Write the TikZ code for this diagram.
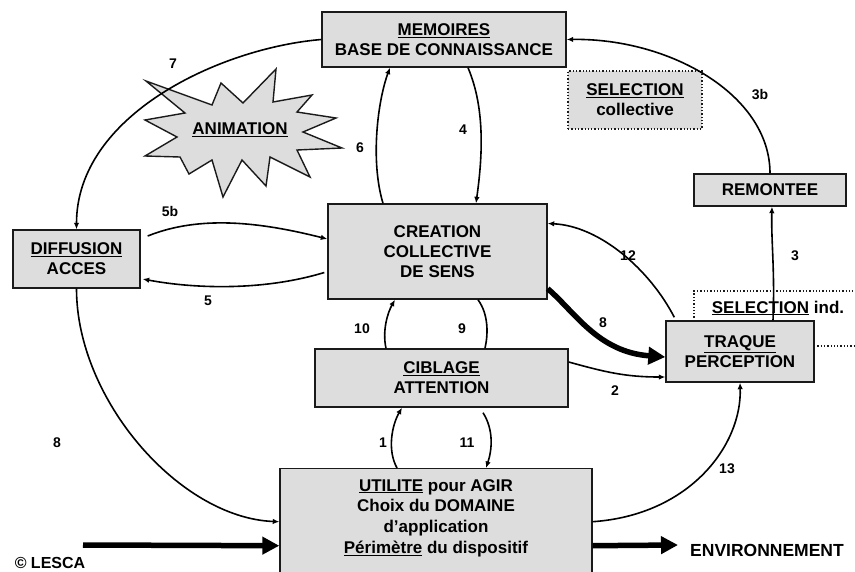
\documentclass[tikz,border=0pt]{standalone}
\usepackage{fontspec}
\setmainfont{Liberation Sans}
\usetikzlibrary{arrows.meta,calc}
\definecolor{boxfill}{HTML}{DDDDDD}
\definecolor{edge}{HTML}{1A1A1A}
\begin{document}
\begin{tikzpicture}[x=1pt,y=-1pt,
  box/.style={draw=edge,line width=1.4pt,fill=boxfill,align=center,inner sep=0pt,
    font=\bfseries\fontsize{17}{20}\selectfont},
  dotbox/.style={draw=edge,dotted,line width=1.3pt,fill=boxfill,align=center,inner sep=0pt,
    font=\bfseries\fontsize{17}{20}\selectfont},
  dotline/.style={draw=edge,dotted,line width=1.3pt},
  lbl/.style={font=\bfseries\fontsize{14}{16}\selectfont,inner sep=0pt},
  txt/.style={font=\bfseries\fontsize{17}{20}\selectfont,inner sep=0pt,align=center},
  conn/.style={draw=black,line width=1.6pt,-{Latex[length=6.5pt,width=5.5pt]}},
  plainconn/.style={draw=black,line width=1.6pt},
  bigarrow/.style={draw=black,line width=5.5pt,-{Triangle[length=17pt,width=17pt]}}]
\useasboundingbox (0,0) rectangle (855,571);
\clip (0,0) rectangle (855,571);

% nodes
\node[box,minimum width=244pt,minimum height=55pt] (mem) at (444,39.5) {\underline{MEMOIRES}\\BASE DE CONNAISSANCE};
\node[dotbox,minimum width=134pt,minimum height=58pt] (selc) at (635,100) {\underline{SELECTION}\\collective};
\node[box,minimum width=152pt,minimum height=32pt] (rem) at (770,190) {REMONTEE};
\node[box,minimum width=127pt,minimum height=58pt] (diff) at (76.5,259) {\underline{DIFFUSION}\\ACCES};
\node[box,minimum width=219pt,minimum height=95pt] (crea) at (437.5,251.5) {CREATION\\COLLECTIVE\\DE SENS};
\node[box,minimum width=253pt,minimum height=58pt] (cib) at (441.5,378) {\underline{CIBLAGE}\\ATTENTION};

% SELECTION ind. dotted frame
\coordinate (sela) at (694,321);
\coordinate (selb) at (862,291);
\coordinate (selc1) at (814,346);
\coordinate (seld) at (862,346);
\draw[dotline] (sela) |- (selb);
\draw[dotline] (selc1) -- (seld);
\node[txt] (seli) at (778,308) {\underline{SELECTION} ind.};

\node[box,minimum width=148pt,minimum height=61pt] (traq) at (740,351.5) {\underline{TRAQUE}\\PERCEPTION};
\node[box,minimum width=312pt,minimum height=130pt,anchor=north] (util) at (436,468) {};
\node[txt,font=\bfseries\fontsize{17}{20.7}\selectfont] (utiltxt) at (436,518) {\underline{UTILITE} pour AGIR\\Choix du DOMAINE\\d’application\\\underline{Périmètre} du dispositif};

% star
\draw[fill=boxfill,draw=edge,line width=1.4pt,line join=miter]
  (146,81) -- (212,105) -- (221,83) -- (243,103) -- (276,69) -- (273,102)
  -- (312,95) -- (297,112) -- (336,118) -- (303,132) -- (342,148) -- (297,150)
  -- (310,177) -- (270,157) -- (266,186) -- (242,160) -- (223,197) -- (212,160)
  -- (189,174) -- (180,157) -- (145,156) -- (177,137) -- (145,120) -- (185,113) -- cycle;
\node[txt] (anim) at (240,130) {\underline{ANIMATION}};

% connectors
\draw[conn] (rem.north) .. controls (770,95) and (670,38) .. (mem.east);
\draw[conn] (mem.west) .. controls (220,48) and (76.5,115) .. (diff.north);
\draw[conn] ([shift={(-54.5,0)}]crea.north) .. controls (370,160) and (378,100) .. ([shift={(-54,0)}]mem.south);
\draw[conn] ([shift={(24,0)}]mem.south) .. controls (486,110) and (482,160) .. ([shift={(38.5,0)}]crea.north);
\draw[conn] ([shift={(7,-23)}]diff.east) .. controls (200,215) and (260,222) .. ([shift={(0,-12.5)}]crea.west);
\draw[conn] ([shift={(-3,21)}]crea.west) .. controls (260,292) and (190,288) .. ([shift={(2,20)}]diff.east);
\draw[conn] (diff.south) .. controls (76.5,400) and (180,518) .. ([shift={(0,-12)}]util.west);
\draw[conn] ([shift={(-55.5,0)}]cib.north) .. controls (382,330) and (388,312) .. ([shift={(-42.5,0)}]crea.south);
\draw[plainconn] ([shift={(40.5,0)}]crea.south) .. controls (489,315) and (488,335) .. ([shift={(43.5,0)}]cib.north);
\draw[conn] ([shift={(-39,0)}]util.north) .. controls (387,450) and (392,425) .. ([shift={(-39.5,0)}]cib.south);
\draw[conn] ([shift={(41.5,5)}]cib.south) .. controls (494,430) and (492,450) .. ([shift={(50,0)}]util.north);
\draw[conn] ([shift={(0,-16)}]cib.east) .. controls (605,372) and (625,377) .. ([shift={(0,25.5)}]traq.west);
\draw[bigarrow] ([shift={(0,-11)}]crea.south east) .. controls (575,312) and (598,352) .. ([shift={(0,5.5)}]traq.west);
\draw[conn] ([shift={(9,-3)}]traq.north west) .. controls (650,270) and (600,226) .. ([shift={(0,-28)}]crea.east);
\draw[conn] ([shift={(33,0)}]traq.north) .. controls (775,270) and (771,240) .. ([shift={(2,0)}]rem.south);
\draw[conn] ([shift={(0,-12)}]util.east) .. controls (690,515) and (742,445) .. (traq.south);

\coordinate (inl) at (83,545);
\coordinate (outr) at (678,545);
\draw[bigarrow] (inl) -- ([shift={(0,12)}]util.west);
\draw[bigarrow] ([shift={(0,12)}]util.east) -- (outr);

% labels
\node[lbl] (l7) at (173,64) {7};
\node[lbl] (l3b) at (760,95) {3b};
\node[lbl] (l6) at (360,148) {6};
\node[lbl] (l4) at (463,130) {4};
\node[lbl] (l5b) at (170,211) {5b};
\node[lbl] (l5) at (208,301) {5};
\node[lbl] (l12) at (628,256) {12};
\node[lbl] (l3) at (795,256) {3};
\node[lbl] (l8a) at (603,323) {8};
\node[lbl] (l10) at (362,329) {10};
\node[lbl] (l9) at (462,329) {9};
\node[lbl] (l2) at (615,391) {2};
\node[lbl] (l1) at (383,443) {1};
\node[lbl] (l11) at (467,443) {11};
\node[lbl] (l8b) at (57,443) {8};
\node[lbl] (l13) at (727,469) {13};
\node[txt,font=\bfseries\fontsize{17.5}{20}\selectfont] (env) at (767,550) {ENVIRONNEMENT};
\node[txt,font=\bfseries\fontsize{16}{18}\selectfont] (copy) at (50,563) {© LESCA};
\end{tikzpicture}
\end{document}
